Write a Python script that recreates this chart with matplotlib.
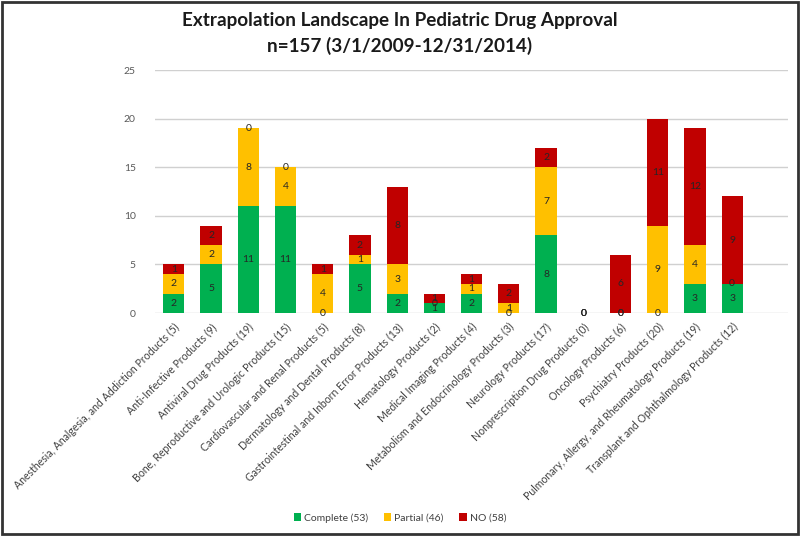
import matplotlib
matplotlib.use("Agg")
import matplotlib.pyplot as plt
import numpy as np
from matplotlib.patches import Rectangle

# Stacked values
categories = [
    "Anesthesia, Analgesia, and Addiction Products (5)",
    "Anti-Infective Products (9)",
    "Antiviral Drug Products (19)",
    "Bone, Reproductive and Urologic Products (15)",
    "Cardiovascular and Renal Products (5)",
    "Dermatology and Dental Products (8)",
    "Gastrointestinal and Inborn Error Products (13)",
    "Hematology Products (2)",
    "Medical Imaging Products (4)",
    "Metabolism and Endocrinology Products (3)",
    "Neurology Products (17)",
    "Nonprescription Drug Products (0)",
    "Oncology Products (6)",
    "Psychiatry Products (20)",
    "Pulmonary, Allergy, and Rheumatology Products (19)",
    "Transplant and Ophthalmology Products (12)",
]
complete = [2, 5, 11, 11, 0, 5, 2, 1, 2, 0, 8, 0, 0, 0, 3, 3]
partial = [2, 2, 8, 4, 4, 1, 3, 0, 1, 1, 7, 0, 0, 9, 4, 0]
no = [1, 2, 0, 0, 1, 2, 8, 1, 1, 2, 2, 0, 6, 11, 12, 9]

series_names = ["Complete (53)", "Partial (46)", "NO (58)"]
colors = ["#00B050", "#FFC000", "#C00000"]

plt.rcParams['font.family'] = ['Lato', 'DejaVu Sans']

fig = plt.figure(figsize=(8, 5.36), dpi=100)
ax = fig.add_axes([0.194, 0.416, 0.791, 0.453])

x = np.arange(len(categories))
bottom = np.zeros(len(categories))
for vals, name, col in zip([complete, partial, no], series_names, colors):
    vals = np.array(vals)
    ax.bar(x, vals, 0.57, bottom=bottom, color=col, label=name, zorder=3)
    # value labels in the middle of each segment (zeros sit at the segment base)
    for xi, b, v in zip(x, bottom, vals):
        ax.text(xi, b + v / 2, str(v), ha='center', va='center',
                fontsize=7.5, color='#262626', zorder=4)
    bottom = bottom + vals

ax.set_ylim(0, 25)
ax.set_xlim(-0.5, len(categories) + 0.5)
ax.set_yticks([0, 5, 10, 15, 20, 25])
ax.grid(axis='y', color='#D0D0D0', linewidth=1, zorder=0)
ax.set_xticks(x)
ax.set_xticklabels(categories, rotation=45, ha='right', rotation_mode='anchor',
                   fontsize=7.6, color='#404040')
ax.tick_params(axis='y', labelsize=7.5, labelcolor='#595959', length=0, pad=14)
ax.tick_params(axis='x', length=0, pad=6)
for s in ax.spines.values():
    s.set_visible(False)

fig.text(0.5, 0.962, "Extrapolation Landscape In Pediatric Drug Approval",
         ha='center', va='center', fontsize=13.6, fontweight='bold', color='#1a1a1a')
fig.text(0.5, 0.915, "n=157 (3/1/2009-12/31/2014)",
         ha='center', va='center', fontsize=13.6, fontweight='bold', color='#1a1a1a')

fig.legend(loc='center', bbox_to_anchor=(0.5, 0.034), ncol=3, frameon=False,
           fontsize=7.5, handlelength=0.7, handleheight=0.7, handletextpad=0.3,
           columnspacing=1.5, labelcolor='#404040')

# dark frame around the whole picture
fig.patches.append(Rectangle((0.002, 0.003), 0.996, 0.994, transform=fig.transFigure,
                             fill=False, edgecolor='#333333', linewidth=2))

fig.savefig("out.png", dpi=100)
